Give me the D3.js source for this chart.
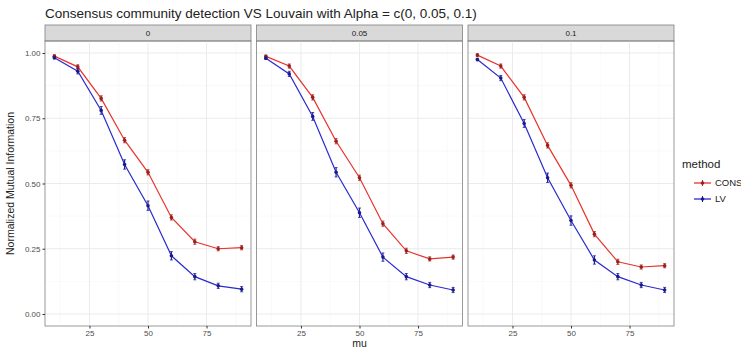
<!DOCTYPE html>
<html>
<head>
<meta charset="utf-8">
<script src="https://cdn.jsdelivr.net/npm/d3@7"></script>
<style>
  body { margin: 0; background: #fff; }
  svg { font-family: "Liberation Sans", Arial, sans-serif; }
</style>
</head>
<body>
<div id="chart"></div>
<script>
const title = 'Consensus community detection VS Louvain with Alpha = c(0, 0.05, 0.1)';
const alphas = ['0', '0.05', '0.1'];
const mu = [10, 20, 30, 40, 50, 60, 70, 80, 90];
const methods = ['CONS', 'LV'];

// NMI, one array per panel and method
const cons0 = [0.988, 0.947, 0.826, 0.666, 0.543, 0.370, 0.277, 0.250, 0.254];
const lv0 = [0.982, 0.930, 0.780, 0.573, 0.415, 0.223, 0.143, 0.108, 0.095];
const cons005 = [0.987, 0.950, 0.830, 0.662, 0.522, 0.346, 0.242, 0.211, 0.218];
const lv005 = [0.980, 0.920, 0.757, 0.543, 0.388, 0.218, 0.143, 0.111, 0.092];
const cons01 = [0.992, 0.950, 0.830, 0.646, 0.493, 0.306, 0.200, 0.180, 0.185];
const lv01 = [0.975, 0.904, 0.730, 0.522, 0.358, 0.207, 0.143, 0.111, 0.092];
// half-width of the error bars
const consErr = [0.005, 0.008, 0.010, 0.010, 0.010, 0.010, 0.010, 0.008, 0.008];
const lvErr = [0.005, 0.010, 0.015, 0.018, 0.018, 0.016, 0.012, 0.010, 0.010];

const xTicks = [25, 50, 75];
const yTicks = [0, 0.25, 0.5, 0.75, 1];

const series = [
  [cons0, lv0],
  [cons005, lv005],
  [cons01, lv01],
];
const colors = { CONS: '#e8332c', LV: '#2a2ad0' };
const errs = { CONS: consErr, LV: lvErr };

const W = 741, H = 352;
const panelLeft = 45, panelW = 206, gap = 5.5;
const stripTop = 25, stripH = 16, panelTop = 41, panelBottom = 326;

const svg = d3.select('#chart').append('svg').attr('width', W).attr('height', H);

const x = d3.scaleLinear().domain([6, 94]).range([0, panelW]);
const y = d3.scaleLinear().domain([-0.046, 1.046]).range([panelBottom, panelTop]);

svg.append('text')
  .attr('x', panelLeft).attr('y', 18)
  .attr('font-size', 13.5).attr('fill', '#222')
  .text(title);

alphas.forEach((a, p) => {
  const g = svg.append('g').attr('transform', `translate(${panelLeft + p * (panelW + gap)},0)`);

  // strip
  g.append('rect')
    .attr('x', 0).attr('y', stripTop).attr('width', panelW).attr('height', stripH)
    .attr('fill', '#d9d9d9').attr('stroke', '#7f7f7f').attr('stroke-width', 0.8);
  g.append('text')
    .attr('x', panelW / 2).attr('y', stripTop + stripH / 2).attr('dy', '0.35em')
    .attr('text-anchor', 'middle').attr('font-size', 8).attr('fill', '#1a1a1a')
    .text(a);

  // minor grid
  const xMinor = [12.5, 37.5, 62.5, 87.5];
  const yMinor = [0.125, 0.375, 0.625, 0.875];
  g.selectAll('.xminor').data(xMinor).enter().append('line')
    .attr('x1', d => x(d)).attr('x2', d => x(d)).attr('y1', panelTop).attr('y2', panelBottom)
    .attr('stroke', '#f2f2f2').attr('stroke-width', 0.5);
  g.selectAll('.yminor').data(yMinor).enter().append('line')
    .attr('x1', 0).attr('x2', panelW).attr('y1', d => y(d)).attr('y2', d => y(d))
    .attr('stroke', '#f2f2f2').attr('stroke-width', 0.5);
  // major grid
  g.selectAll('.xmajor').data(xTicks).enter().append('line')
    .attr('x1', d => x(d)).attr('x2', d => x(d)).attr('y1', panelTop).attr('y2', panelBottom)
    .attr('stroke', '#ebebeb').attr('stroke-width', 1);
  g.selectAll('.ymajor').data(yTicks).enter().append('line')
    .attr('x1', 0).attr('x2', panelW).attr('y1', d => y(d)).attr('y2', d => y(d))
    .attr('stroke', '#ebebeb').attr('stroke-width', 1);

  // data
  methods.forEach((m, k) => {
    const vals = series[p][k];
    const pts = mu.map((v, i) => ({ mu: v, nmi: vals[i], e: errs[m][i] }));
    const line = d3.line().x(d => x(d.mu)).y(d => y(d.nmi));
    g.append('path').datum(pts)
      .attr('d', line).attr('fill', 'none')
      .attr('stroke', colors[m]).attr('stroke-width', 1.2);
    g.selectAll('.err' + m).data(pts).enter().append('line')
      .attr('x1', d => x(d.mu)).attr('x2', d => x(d.mu))
      .attr('y1', d => y(d.nmi - d.e)).attr('y2', d => y(d.nmi + d.e))
      .attr('stroke', d3.color(colors[m]).darker(0.8)).attr('stroke-width', 1.2);
    g.selectAll('.errcap' + m).data(pts).enter().append('path')
      .attr('d', d => `M${x(d.mu) - 1.5},${y(d.nmi - d.e)}h3M${x(d.mu) - 1.5},${y(d.nmi + d.e)}h3`)
      .attr('stroke', d3.color(colors[m]).darker(0.8)).attr('stroke-width', 0.8);
    g.selectAll('.pt' + m).data(pts).enter().append('circle')
      .attr('cx', d => x(d.mu)).attr('cy', d => y(d.nmi)).attr('r', 1.8)
      .attr('fill', d3.color(colors[m]).darker(1.2));
  });

  // panel border
  g.append('rect')
    .attr('x', 0).attr('y', panelTop).attr('width', panelW).attr('height', panelBottom - panelTop)
    .attr('fill', 'none').attr('stroke', '#7f7f7f').attr('stroke-width', 0.8);

  // x axis
  const xa = g.append('g').attr('transform', `translate(0,${panelBottom})`)
    .call(d3.axisBottom(x).tickValues(xTicks).tickSize(2.5).tickPadding(2));
  xa.select('.domain').remove();
  xa.selectAll('line').attr('stroke', '#333');
  xa.selectAll('text').attr('font-size', 8).attr('fill', '#4d4d4d').attr('font-family', null);

  if (p === 0) {
    const ya = g.append('g')
      .call(d3.axisLeft(y).tickValues(yTicks).tickFormat(d3.format('.2f')).tickSize(2.5).tickPadding(2));
    ya.select('.domain').remove();
    ya.selectAll('line').attr('stroke', '#333');
    ya.selectAll('text').attr('font-size', 8).attr('fill', '#4d4d4d').attr('font-family', null);
  }
});

// axis titles
svg.append('text')
  .attr('x', panelLeft + (3 * panelW + 2 * gap) / 2).attr('y', 347)
  .attr('text-anchor', 'middle').attr('font-size', 10.5).attr('fill', '#222')
  .text('mu');
svg.append('text')
  .attr('transform', `translate(14,${(panelTop + panelBottom) / 2}) rotate(-90)`)
  .attr('text-anchor', 'middle').attr('font-size', 10.5).attr('fill', '#222')
  .text('Normalized Mutual Information');

// legend
const lg = svg.append('g').attr('transform', 'translate(682,0)');
lg.append('text').attr('x', 0).attr('y', 168).attr('font-size', 11.5).attr('fill', '#222').text('method');
methods.forEach((m, i) => {
  const cy = 183 + i * 16;
  lg.append('line').attr('x1', 12).attr('x2', 29).attr('y1', cy).attr('y2', cy)
    .attr('stroke', colors[m]).attr('stroke-width', 1.3);
  lg.append('line').attr('x1', 20.5).attr('x2', 20.5).attr('y1', cy - 3).attr('y2', cy + 3)
    .attr('stroke', d3.color(colors[m]).darker(0.8)).attr('stroke-width', 1);
  lg.append('circle').attr('cx', 20.5).attr('cy', cy).attr('r', 1.8)
    .attr('fill', d3.color(colors[m]).darker(1.2));
  lg.append('text').attr('x', 33).attr('y', cy).attr('dy', '0.35em')
    .attr('font-size', 9.5).attr('fill', '#222').text(m);
});
</script>
</body>
</html>
